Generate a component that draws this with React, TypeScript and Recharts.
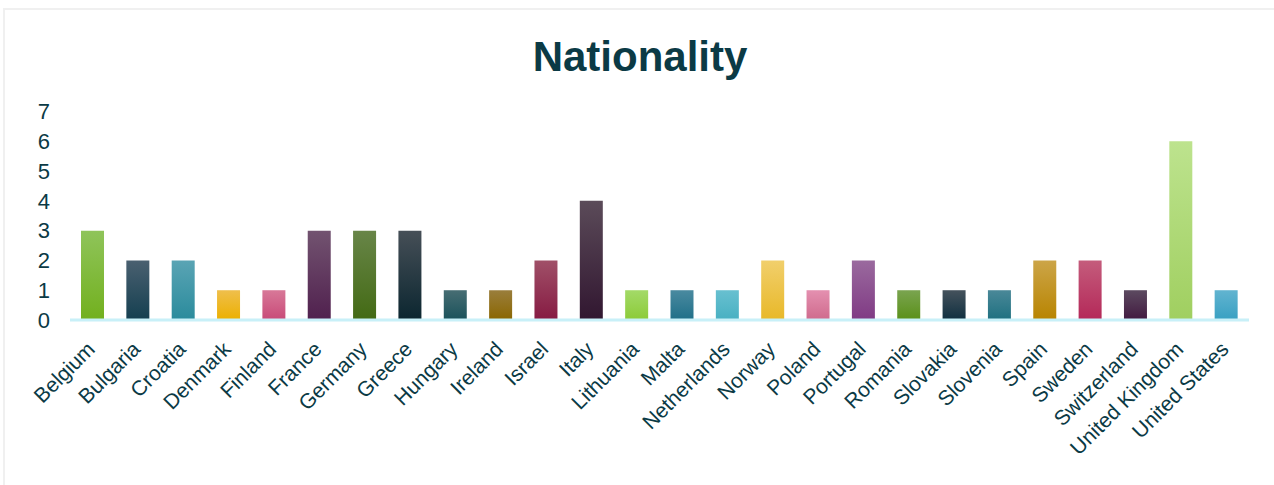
import { BarChart, Bar, XAxis, YAxis, Cell } from "recharts";

const countries = [
  "Belgium", "Bulgaria", "Croatia", "Denmark", "Finland", "France", "Germany",
  "Greece", "Hungary", "Ireland", "Israel", "Italy", "Lithuania", "Malta",
  "Netherlands", "Norway", "Poland", "Portugal", "Romania", "Slovakia",
  "Slovenia", "Spain", "Sweden", "Switzerland", "United Kingdom", "United States",
];
const counts = [3, 2, 2, 1, 1, 3, 3, 3, 1, 1, 2, 4, 1, 1, 1, 2, 1, 2, 1, 1, 1, 2, 2, 1, 6, 1];
const yTicks = [0, 1, 2, 3, 4, 5, 6, 7];

// gradient top / bottom per bar
const topColors = [
  "#8fc45a", "#4a6070", "#5aa4b4", "#efbf4c", "#d87898", "#725370", "#688548",
  "#464f57", "#476d73", "#9a7e3c", "#a05068", "#5b4b59", "#a3da68", "#4a8aa0",
  "#68c0d0", "#f1cf6c", "#e490b0", "#9a6a9e", "#7aa450", "#45525c", "#4a8898",
  "#cca548", "#c45c7c", "#5c4a60", "#bde38e", "#62b4d0",
];
const bottomColors = [
  "#72b01e", "#143f50", "#2a8b9c", "#ecb000", "#c84a78", "#50204e", "#436a14",
  "#0b2630", "#1a525b", "#8a6600", "#861a42", "#311630", "#8ccb38", "#1f6f88",
  "#48b0c2", "#e8b828", "#cf6a8c", "#803a84", "#5a9018", "#0f2f40", "#1e7080",
  "#b88400", "#b42858", "#421a40", "#a0cf60", "#38a0c2",
];

const data = countries.map((name, i) => ({ name, count: counts[i] }));

const textColor = "#0b3a45";
const font = "'Liberation Sans', Arial, sans-serif";

export default function App() {
  return (
    <div style={{ position: "absolute", left: 0, top: 0, width: 1274, height: 485, overflow: "hidden", background: "#fff" }}>
      <div
        style={{
          position: "absolute", left: 3, top: 8, width: 1271, height: 477,
          borderTop: "2px solid #f0f0f0", borderLeft: "2px solid #f0f0f0", boxSizing: "border-box",
        }}
      />
      <div
        style={{
          position: "absolute", left: 3, top: 36, width: 1274, textAlign: "center",
          fontFamily: font, fontWeight: "bold", fontSize: 42, lineHeight: "42px", color: textColor,
        }}
      >
        Nationality
      </div>
      <div style={{ position: "absolute", left: 0, top: 0 }}>
        <BarChart
          width={1274}
          height={485}
          data={data}
          margin={{ top: 111.5, right: 25, bottom: 0, left: 10 }}
          barSize={23}
        >
          <defs>
            {countries.map((c, i) => (
              <linearGradient key={c} id={`grad${i}`} x1="0" y1="0" x2="0" y2="1">
                <stop offset="0%" stopColor={topColors[i]} />
                <stop offset="100%" stopColor={bottomColors[i]} />
              </linearGradient>
            ))}
          </defs>
          <YAxis
            domain={[0, 7]}
            ticks={yTicks}
            width={60}
            axisLine={false}
            tickLine={false}
            tickMargin={14}
            interval={0}
            tick={{ fill: textColor, fontSize: 22, fontFamily: font }}
          />
          <XAxis
            dataKey="name"
            height={165}
            interval={0}
            tickLine={false}
            tickMargin={14}
            axisLine={{ stroke: "#c8f0f8", strokeWidth: 3 }}
            angle={-45}
            textAnchor="end"
            tick={{ fill: textColor, fontSize: 21, fontFamily: font, dx: -7 }}
          />
          <Bar dataKey="count" isAnimationActive={false}>
            {data.map((d, i) => (
              <Cell key={d.name} fill={`url(#grad${i})`} />
            ))}
          </Bar>
        </BarChart>
      </div>
    </div>
  );
}
